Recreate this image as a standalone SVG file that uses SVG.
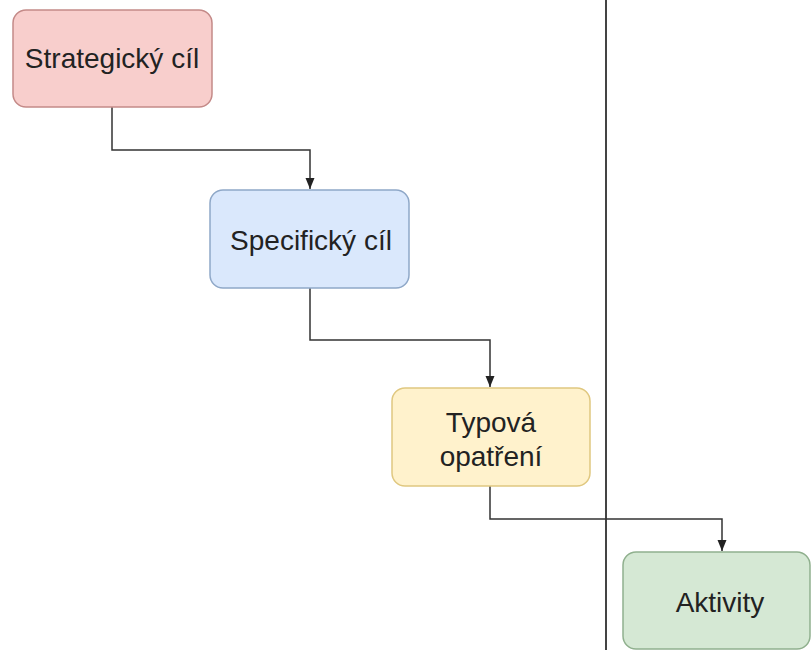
<svg xmlns="http://www.w3.org/2000/svg" width="811" height="650" viewBox="0 0 811 650">
<style>
.box{stroke-width:1.5}
.lbl{font-family:"Liberation Sans",Arial,sans-serif;font-size:28px;fill:#222;text-anchor:middle}
.conn{fill:none;stroke:#333;stroke-width:1.5}
</style>
<defs>
<marker id="arr" markerWidth="12" markerHeight="12" refX="11" refY="6" orient="auto" markerUnits="userSpaceOnUse">
<path d="M0,1.5 L11,6 L0,10.5 Z" fill="#222"/>
</marker>
</defs>
<rect width="811" height="650" fill="#fff"/>
<line x1="606" y1="0" x2="606" y2="650" stroke="#444" stroke-width="2"/>
<g id="connectors">
<path class="conn" d="M112,107 V150 H310 V189" marker-end="url(#arr)"/>
<path class="conn" d="M310,288 V340 H490 V387" marker-end="url(#arr)"/>
<path class="conn" d="M490,486 V519 H722 V551" marker-end="url(#arr)"/>
</g>
<g id="strategicky">
<rect class="box" x="13" y="10" width="199" height="97" rx="13" fill="#f8cecc" stroke="#c48a88"/>
<text class="lbl" x="112" y="68">Strategický cíl</text>
</g>
<g id="specificky">
<rect class="box" x="210" y="190" width="199" height="98" rx="13" fill="#dae8fc" stroke="#8fa8c8"/>
<text class="lbl" x="311" y="250">Specifický cíl</text>
</g>
<g id="typova">
<rect class="box" x="392" y="388" width="198" height="98" rx="13" fill="#fff2cc" stroke="#e0c880"/>
<text class="lbl" x="491" y="432">Typová</text>
<text class="lbl" x="491" y="466">opatření</text>
</g>
<g id="aktivity">
<rect class="box" x="623" y="552" width="187" height="97" rx="13" fill="#d5e8d4" stroke="#90b08e"/>
<text class="lbl" x="720" y="612">Aktivity</text>
</g>
</svg>
